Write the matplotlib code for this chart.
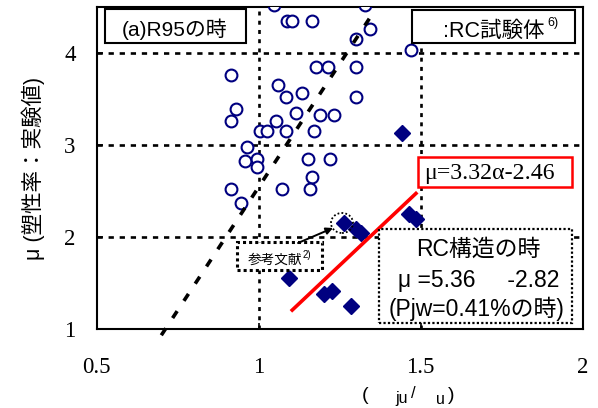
import matplotlib
matplotlib.use("Agg")
import matplotlib.pyplot as plt
from matplotlib.patches import Rectangle, Ellipse
import numpy as np

# ---------------- data ----------------
circle_x = [1.049, 1.328, 1.089, 1.104, 1.166, 1.344, 1.300, 1.472,
            0.914, 1.178, 1.215, 1.300, 1.061, 1.086, 1.135, 1.300,
            0.932, 0.914, 1.117, 1.190, 1.233, 1.055, 1.006, 1.025, 1.086, 1.172,
            0.966, 0.957, 0.994, 0.994, 1.153, 1.221, 1.166, 0.914, 1.074, 1.160, 0.945]
circle_y = [4.52, 4.52, 4.35, 4.35, 4.35, 4.26, 4.15, 4.03,
            3.76, 3.85, 3.85, 3.85, 3.65, 3.52, 3.57, 3.52,
            3.39, 3.26, 3.35, 3.33, 3.33, 3.26, 3.15, 3.15, 3.15, 3.15,
            2.98, 2.83, 2.85, 2.76, 2.85, 2.85, 2.65, 2.52, 2.52, 2.52, 2.37]

diamond_x = [1.442, 1.264, 1.300, 1.316, 1.463, 1.485, 1.095, 1.202, 1.227, 1.285]
diamond_y = [3.13, 2.15, 2.09, 2.04, 2.25, 2.20, 1.55, 1.38, 1.41, 1.25]

# regression lines
red_slope, red_icpt = 3.32, -2.46
red_alpha = [1.10, 1.49]
blk_slope, blk_icpt = 5.36, -2.82
blk_alpha = [0.70, 1.36]

xticks = [0.5, 1, 1.5, 2]
xticklabels = ["0.5", "1", "1.5", "2"]
yticks = [1, 2, 3, 4]
yticklabels = ["1", "2", "3", "4"]

SANS = ["Liberation Sans", "Noto Sans CJK JP"]
SERIF = ["Liberation Serif", "DejaVu Serif"]
NAVY = "#000080"

W, H = 598, 408
fig = plt.figure(figsize=(W / 100, H / 100), dpi=100)
AX_L, AX_R, AX_B, AX_T = 96.5, 582.5, 329, 7
ax = fig.add_axes([AX_L / W, 1 - AX_B / H, (AX_R - AX_L) / W, (AX_B - AX_T) / H])

def A(px, py):
    """pixel -> axes fraction"""
    return ((px - AX_L) / (AX_R - AX_L), (AX_B - py) / (AX_B - AX_T))

ax.set_xlim(0.5, 2)
ax.set_ylim(1, 4.5)

# grid lines
for gy in [2, 3, 4]:
    ax.plot([0.5, 2], [gy, gy], color="black", lw=1.9, ls=(0, (2.0, 2.2)), zorder=1)
for gx in [1, 1.5, 2]:
    ax.plot([gx, gx], [1, 4.5], color="black", lw=1.9, ls=(0, (1.5, 2.0)), zorder=1)

# data points
ax.plot(circle_x, circle_y, ls="none", marker="o", ms=8.5, mfc="white",
        mec=NAVY, mew=1.5, zorder=3, clip_on=True)
ax.plot(diamond_x, diamond_y, ls="none", marker="D", ms=8.5, mfc=NAVY,
        mec=NAVY, zorder=3)

# lines
ra = np.array(red_alpha)
ax.plot(ra, red_slope * ra + red_icpt, color="#ff0000", lw=2.6, zorder=4,
        solid_capstyle="butt")
ba = np.array(blk_alpha)
ax.plot(ba, blk_slope * ba + blk_icpt, color="black", lw=2.6,
        ls=(0, (2.3, 3.4)), zorder=4, clip_on=False)

# axes style
for s in ax.spines.values():
    s.set_linewidth(1.5)
ax.set_xticks(xticks)
ax.set_xticklabels(xticklabels, fontfamily=SERIF, fontsize=16.5)
ax.set_yticks(yticks)
ax.set_yticklabels(yticklabels, fontfamily=SERIF, fontsize=16.5)
ax.tick_params(axis="both", direction="in", length=4, width=1.2)
ax.tick_params(axis="x", pad=20)
ax.tick_params(axis="y", pad=15)

# ---------- boxes & annotations ----------
def box(x0, y0, x1, y1, **kw):
    (ax0, ay0) = A(x0, y1)
    (ax1, ay1) = A(x1, y0)
    r = Rectangle((ax0, ay0), ax1 - ax0, ay1 - ay0, transform=ax.transAxes,
                  clip_on=False, zorder=6, **kw)
    ax.add_patch(r)

# (a)R95 box
box(105, 9, 246, 43, fc="white", ec="black", lw=1.5)
ax.text(*A(122, 29), "(a)R95の時", transform=ax.transAxes, fontfamily=SANS,
        fontsize=15, ha="left", va="center", zorder=7)

# legend box
box(412, 10, 575, 43, fc="white", ec="black", lw=1.5)
ax.text(*A(443, 31), ":RC試験体", transform=ax.transAxes, fontfamily=SANS,
        fontsize=15.5, ha="left", va="center", zorder=7)
ax.text(*A(547, 23), "6)", transform=ax.transAxes, fontfamily=SANS,
        fontsize=9, ha="left", va="center", zorder=7)

# red formula box
box(418, 157, 572, 187, fc="white", ec="#ff0000", lw=1.8)
ax.text(*A(424, 173), "μ=3.32α-2.46", transform=ax.transAxes, fontfamily=SERIF,
        fontsize=17.2, ha="left", va="center", zorder=7)

# RC structure box
box(379, 229, 572, 323, fc="white", ec="black", lw=1.6, ls=(0, (1, 1.0)))
ax.text(*A(478, 249), "RC構造の時", transform=ax.transAxes, fontfamily=SANS,
        fontsize=16.5, ha="center", va="center", zorder=7)
ax.text(*A(479, 281), "μ =5.36     -2.82", transform=ax.transAxes, fontfamily=SANS,
        fontsize=16.5, ha="center", va="center", zorder=7)
ax.text(*A(477, 309), "(Pjw=0.41%の時)", transform=ax.transAxes, fontfamily=SANS,
        fontsize=16.5, ha="center", va="center", zorder=7)

# reference box
box(237, 242, 322, 270, fc="white", ec="black", lw=2.2, ls=(0, (1, 1.0)))
ax.text(*A(248, 260), "参考文献", transform=ax.transAxes, fontfamily=SANS,
        fontsize=9.8, ha="left", va="center", zorder=7)
ax.text(*A(303, 255), "2)", transform=ax.transAxes, fontfamily=SANS,
        fontsize=7, ha="left", va="center", zorder=7)

# dotted ellipse + arrow
ec_ = A(342, 223)
ax.add_patch(Ellipse(ec_, 22 / (AX_R - AX_L), 20 / (AX_B - AX_T),
                     transform=ax.transAxes, fc="none", ec="black", lw=1.3,
                     ls=(0, (1, 1.2)), zorder=6, clip_on=False))
ax.annotate("", xy=A(333, 228), xytext=A(298, 243), xycoords="axes fraction",
            textcoords="axes fraction",
            arrowprops=dict(arrowstyle="-|>", color="black", lw=1.4,
                            mutation_scale=10, shrinkA=0, shrinkB=0), zorder=7)

# y label
fig.text(33 / W, 1 - 168 / H, "μ (塑性率：実験値)", rotation=90, fontfamily=SANS,
         fontsize=15.5, ha="center", va="center")

# x label pieces (Greek glyphs missing in original)
fig.text(365 / W, 1 - 395 / H, "(", fontfamily=SANS, fontsize=14, ha="center", va="center")
fig.text(402 / W, 1 - 399 / H, "ju", fontfamily=SANS, fontsize=11.5, ha="center", va="center")
fig.text(413 / W, 1 - 393 / H, "/", fontfamily=SANS, fontsize=12, ha="center", va="center")
fig.text(440 / W, 1 - 399 / H, "u", fontfamily=SANS, fontsize=11.5, ha="center", va="center")
fig.text(451 / W, 1 - 395 / H, ")", fontfamily=SANS, fontsize=14, ha="center", va="center")

fig.savefig("out.png", dpi=100)
